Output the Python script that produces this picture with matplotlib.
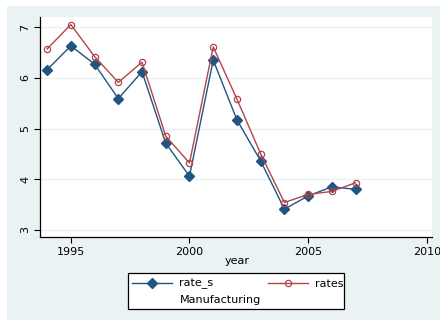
import matplotlib
matplotlib.use("Agg")
import matplotlib.pyplot as plt
from matplotlib.patches import Rectangle

years = [1994, 1995, 1996, 1997, 1998, 1999, 2000, 2001, 2002, 2003, 2004, 2005, 2006, 2007]
rate_s = [6.16, 6.63, 6.27, 5.59, 6.12, 4.71, 4.06, 6.35, 5.17, 4.36, 3.41, 3.67, 3.85, 3.80]
rates = [6.57, 7.05, 6.42, 5.91, 6.31, 4.85, 4.32, 6.61, 5.58, 4.50, 3.54, 3.70, 3.76, 3.93]
x_ticks = [1995, 2000, 2005, 2010]
y_ticks = [3, 4, 5, 6, 7]
note = "Manufacturing"

BLUE = "#1f5580"
RED = "#b0454b"
BG = "#eaf2f3"

fig = plt.figure(figsize=(4.4, 3.2), dpi=100, facecolor="white")
fig.patches.append(Rectangle((7 / 440, 0), 1 - 7 / 440, 1 - 6 / 320,
                             transform=fig.transFigure, facecolor=BG,
                             edgecolor="none", zorder=-10))

ax = fig.add_axes([40 / 440, 83 / 320, 392 / 440, 220 / 320])
ax.set_facecolor("white")
ax.plot(years, rate_s, color=BLUE, lw=1.0, marker="D", ms=5.5,
        mfc=BLUE, mec=BLUE, label="rate_s", zorder=3)
ax.plot(years, rates, color=RED, lw=1.0, marker="o", ms=4.5,
        mfc="none", mec=RED, mew=0.9, label="rates", zorder=3)

ax.set_xlim(1993.7, 2010.22)
ax.set_ylim(2.86, 7.2)
ax.set_xticks(x_ticks)
ax.set_yticks(y_ticks)
ax.set_xticklabels([str(v) for v in x_ticks], fontsize=8)
ax.set_yticklabels([str(v) for v in y_ticks], fontsize=8, rotation=90, va="center")
ax.tick_params(axis="both", direction="out", length=4, width=0.8, color="black")
ax.tick_params(axis="y", pad=3)
ax.grid(axis="y", color=BG, lw=1.0)
ax.set_axisbelow(True)
for side in ("top", "right"):
    ax.spines[side].set_visible(False)
for side in ("left", "bottom"):
    ax.spines[side].set_color("black")
    ax.spines[side].set_linewidth(0.9)

fig.text(237 / 440, (320 - 261) / 320, "year", fontsize=8, ha="center", va="center")

# legend box with the note underneath the entries
fig.patches.append(Rectangle((128 / 440, 11 / 320), 216 / 440, 36 / 320,
                             transform=fig.transFigure, facecolor="white",
                             edgecolor="black", lw=0.9, zorder=5))
leg = fig.legend(loc="center left", bbox_to_anchor=(132 / 440, (320 - 284) / 320),
                 ncol=2, frameon=False, fontsize=8, handlelength=3.6,
                 handletextpad=0.6, columnspacing=5.0, borderpad=0,
                 borderaxespad=0)
leg.set_zorder(6)
fig.text(180 / 440, (320 - 300) / 320, note, fontsize=8, ha="left", va="center", zorder=7)

fig.savefig("out.png", dpi=100, facecolor="white")
